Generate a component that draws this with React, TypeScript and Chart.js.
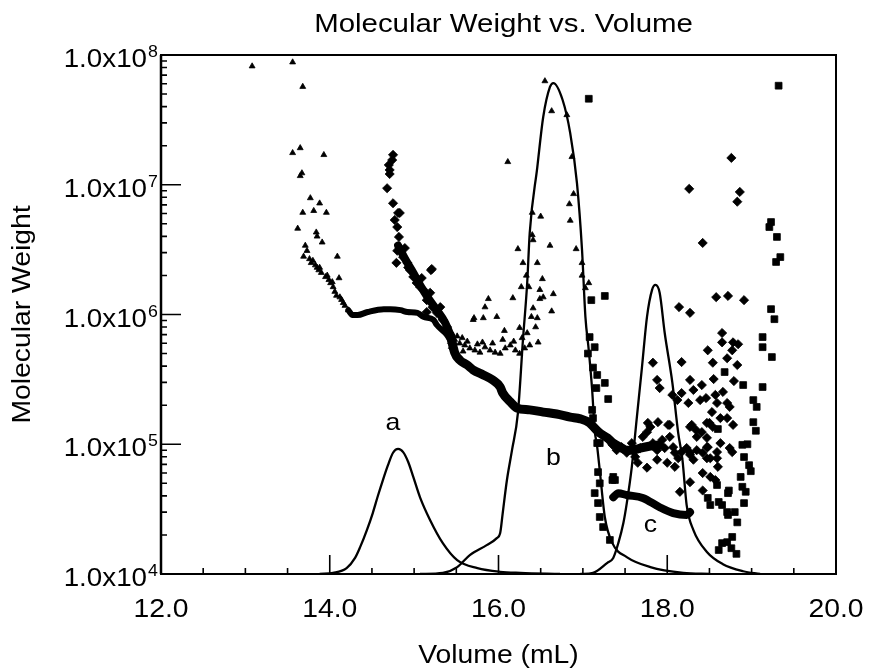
import React, { useEffect, useRef } from "react";
import { Chart, registerables } from "chart.js";

Chart.register(...registerables);

const FONT = '"Liberation Sans", Arial, Helvetica, sans-serif';
const TEXT_STRETCH = 1.11;

const CHART_TITLE = "Molecular Weight vs. Volume";
const X_TITLE = "Volume (mL)";
const Y_TITLE = "Molecular Weight";

const X_MIN = 12;
const X_MAX = 20;
const Y_MIN = 1e4;
const Y_MAX = 1e8;
const X_MAJOR_TICKS = [12, 14, 16, 18, 20];
const X_TICK_LABELS = ["12.0", "14.0", "16.0", "18.0", "20.0"];
const X_MINOR_TICKS = [12.5, 13, 13.5, 14.5, 15, 15.5, 16.5, 17, 17.5, 18.5, 19, 19.5];
const Y_MAJOR_TICKS = [1e4, 1e5, 1e6, 1e7, 1e8];
const Y_TICK_MANTISSA = "1.0x10";
const Y_TICK_EXPONENTS = ["4", "5", "6", "7", "8"];
const Y_MINOR_FACTORS = [2, 3, 4, 5, 6, 7, 8, 9];

const PEAK_LABELS = ["a", "b", "c"];
const PEAK_LABEL_X = [14.75, 16.65, 17.8];
const PEAK_LABEL_Y = [1.29e5, 6.9e4, 2.1e4];

// Detector traces (peaks a, b, c)
const CURVE_A_X = [13.88, 14.04, 14.2, 14.3, 14.36, 14.44, 14.51, 14.57, 14.63, 14.69, 14.75, 14.81, 14.87, 14.93, 14.99, 15.07, 15.19, 15.34, 15.51, 15.75, 16.02, 16.26, 16.73];
const CURVE_A_Y = [1.0e4, 1.02e4, 1.11e4, 1.33e4, 1.61e4, 2.18e4, 2.95e4, 3.99e4, 5.3e4, 6.9e4, 8.6e4, 9.2e4, 8.7e4, 7.3e4, 5.6e4, 3.9e4, 2.6e4, 1.73e4, 1.28e4, 1.11e4, 1.04e4, 1.02e4, 1.0e4];

const CURVE_B_X = [15.07, 15.34, 15.51, 15.66, 15.86, 15.98, 16.02, 16.05, 16.1, 16.16, 16.23, 16.29, 16.34, 16.37, 16.46, 16.53, 16.61, 16.65, 16.76, 16.85, 16.93, 16.99, 17.03, 17.07, 17.11, 17.14, 17.17, 17.2, 17.26, 17.35, 17.52, 17.8, 18.19, 18.51];
const CURVE_B_Y = [1.0e4, 1.02e4, 1.13e4, 1.4e4, 1.67e4, 1.89e4, 2.07e4, 2.95e4, 5.3e4, 9.0e4, 1.74e5, 6.4e5, 1.75e6, 4.25e6, 1.37e7, 3.33e7, 5.67e7, 6.08e7, 4.5e7, 2.5e7, 1.03e7, 3.14e6, 9.6e5, 5.3e5, 2.62e5, 1.29e5, 9.5e4, 6.3e4, 2.75e4, 1.73e4, 1.35e4, 1.13e4, 1.02e4, 1.0e4];

const CURVE_C_X = [16.97, 17.12, 17.29, 17.36, 17.42, 17.48, 17.52, 17.58, 17.64, 17.7, 17.76, 17.82, 17.86, 17.91, 17.97, 18.06, 18.13, 18.18, 18.23, 18.31, 18.47, 18.66, 18.9, 19.1];
const CURVE_C_Y = [1.0e4, 1.02e4, 1.22e4, 1.33e4, 1.73e4, 2.47e4, 3.5e4, 6.7e4, 1.62e5, 3.9e5, 9.6e5, 1.55e6, 1.69e6, 1.47e6, 7.2e5, 3.0e5, 1.22e5, 7.6e4, 3.4e4, 2.18e4, 1.48e4, 1.19e4, 1.05e4, 1.0e4];

// Sample a molecular weights (triangles)
const A_DENSE_X = [14.22, 14.27, 14.33, 14.45, 14.64, 14.72, 14.84, 14.92, 15.04, 15.11, 15.23, 15.27, 15.39, 15.46];
const A_DENSE_Y = [1.08e6, 9.9e5, 9.9e5, 1.045e6, 1.1e6, 1.1e6, 1.08e6, 1.045e6, 1.03e6, 9.6e5, 9.1e5, 8.3e5, 6.95e5, 5.8e5];
const A_PTS_X = [13.08, 13.56, 13.68, 13.56, 13.65, 13.93, 13.67, 13.65, 13.77, 13.88, 13.68, 13.81, 13.96, 13.62, 13.84, 13.85, 13.91, 13.71, 13.73, 13.69, 13.8, 13.85, 13.88, 13.97, 14.03, 14.09, 14.11, 14.04, 14.12, 14.16, 14.22, 13.76, 13.78, 13.83, 13.87, 13.9, 13.95, 13.99, 14.01, 14.06, 14.08, 14.14, 14.18,
  15.7, 16.55, 16.63, 16.81, 16.11, 16.87, 16.89, 16.84, 16.85, 16.5, 16.4, 16.4, 16.41, 16.61, 16.92, 16.23, 16.29, 16.46, 16.33, 16.52, 16.99, 16.99, 17.07, 17.03, 16.27, 16.36, 16.49, 16.53, 16.65, 16.49, 16.17, 16.63, 15.88, 15.84, 15.98, 15.82, 15.71, 16.41, 16.39, 16.46, 16.44, 16.25, 16.07, 16.47, 16.34,
  15.48, 15.54, 15.6, 15.66, 15.72, 15.78, 15.84, 15.9, 15.96, 16.02, 16.08, 16.14, 16.2, 16.25, 16.31, 16.37, 15.51, 15.57, 15.63, 15.75, 15.81, 15.93, 16.05, 16.18, 16.28, 15.58];
const A_PTS_Y = [8.2e7, 8.8e7, 5.7e7, 1.76e7, 1.92e7, 1.7e7, 1.23e7, 1.17e7, 7.9e6, 7.2e6, 6.1e6, 6.3e6, 6.1e6, 4.6e6, 4.3e6, 4.0e6, 3.6e6, 3.4e6, 3.1e6, 2.8e6, 2.6e6, 2.3e6, 2.3e6, 2.0e6, 1.78e6, 2.8e6, 1.91e6, 1.63e6, 1.36e6, 1.23e6, 1.08e6, 2.68e6, 2.5e6, 2.4e6, 2.2e6, 2.1e6, 1.95e6, 1.85e6, 1.75e6, 1.5e6, 1.4e6, 1.3e6, 1.17e6,
  9.1e5, 6.3e7, 3.7e7, 3.45e7, 1.5e7, 1.64e7, 8.5e6, 7.1e6, 5.3e6, 5.7e6, 6.1e6, 4.1e6, 3.75e6, 3.4e6, 3.2e6, 3.2e6, 2.5e6, 2.5e6, 2.0e6, 1.88e6, 2.5e6, 2.0e6, 1.75e6, 1.6e6, 1.63e6, 1.63e6, 1.55e6, 1.36e6, 1.44e6, 1.32e6, 1.34e6, 1.06e6, 1.32e6, 1.14e6, 9.6e5, 9.4e5, 9.4e5, 1.12e6, 9.6e5, 9.4e5, 8.0e5, 7.9e5, 7.5e5, 6.1e5, 7.2e5,
  6.4e5, 6.0e5, 5.8e5, 5.5e5, 5.3e5, 5.1e5, 5.6e5, 5.3e5, 5.1e5, 5.0e5, 5.5e5, 5.8e5, 5.3e5, 5.0e5, 5.5e5, 5.8e5, 6.8e5, 6.6e5, 6.2e5, 5.9e5, 6.1e5, 6.0e5, 6.4e5, 6.2e5, 6.6e5, 5.2e5];

// Sample b molecular weights (diamonds)
const B_BAND_X = [14.81, 14.89, 14.99, 15.07, 15.16, 15.27, 15.37, 15.43];
const B_BAND_Y = [3.4e6, 2.7e6, 2.1e6, 1.69e6, 1.36e6, 1.08e6, 8.6e5, 6.95e5];
const B_DENSE_X = [15.43, 15.48, 15.54, 15.63, 15.7, 15.82, 15.93, 16.02, 16.05, 16.14, 16.22, 16.37, 16.53, 16.69, 16.85, 16.97, 17.08, 17.14, 17.2, 17.29, 17.36, 17.44, 17.52, 17.59, 17.68, 17.8, 17.91];
const B_DENSE_Y = [6.95e5, 5.1e5, 4.46e5, 4.08e5, 3.74e5, 3.42e5, 3.13e5, 2.76e5, 2.48e5, 2.12e5, 1.9e5, 1.84e5, 1.77e5, 1.71e5, 1.62e5, 1.57e5, 1.46e5, 1.33e5, 1.22e5, 1.12e5, 1.02e5, 9.5e4, 9.0e4, 9.0e4, 9.35e4, 9.7e4, 9.9e4];
const B_PTS_X = [14.75, 14.74, 14.7, 14.71, 14.71, 14.68, 14.75, 14.81, 14.77, 14.8, 14.82, 14.8, 14.83, 14.89, 14.79, 14.87, 14.92, 14.95, 14.99, 15.21, 15.03, 15.09, 15.11, 15.19, 15.15, 15.22, 15.31, 15.27, 15.34, 15.39, 15.43, 15.15, 15.45, 15.46, 15.2, 14.83, 14.93, 15.07,
  18.76, 18.26, 18.86, 18.83, 18.42, 18.58, 18.72, 18.91, 18.14, 18.27,
  17.83, 18.17, 17.88, 17.91, 18.48, 18.54, 18.65, 18.65, 18.78, 18.84, 18.77, 18.71, 18.83, 18.79, 18.55, 18.41, 18.27, 18.31, 18.17, 18.06, 18.12, 18.25, 18.39, 18.46, 18.57, 18.59, 18.66, 18.71, 18.74, 18.53, 18.63, 18.71, 18.78, 18.29, 18.5, 18.34, 18.35, 18.63, 18.47, 18.48, 17.89, 18.03, 17.8, 18.74, 18.77, 18.27, 18.31, 18.47, 18.59, 18.6, 18.42, 18.51, 18.57, 18.27, 18.15, 18.42,
  17.35, 17.4, 17.46, 17.52, 17.58, 17.62, 17.68, 17.71, 17.76, 17.77, 17.83, 17.88, 17.94, 17.97, 18.01, 18.03, 18.07, 18.09, 18.13, 17.76, 17.65, 17.88, 18.0, 18.09, 18.17, 18.23, 18.27, 18.35, 18.42, 18.47, 18.51, 18.59, 18.41, 18.47, 18.54, 18.27];
const B_PTS_Y = [1.7e7, 1.55e7, 1.42e7, 1.3e7, 1.21e7, 9.4e6, 7.2e6, 6.06e6, 5.35e6, 4.72e6, 3.96e6, 3.1e6, 3.25e6, 3.25e6, 2.5e6, 2.77e6, 2.5e6, 2.2e6, 1.95e6, 2.24e6, 1.75e6, 1.91e6, 1.55e6, 1.47e6, 1.29e6, 1.14e6, 1.14e6, 1.03e6, 9.1e5, 8.0e5, 6.95e5, 1.045e6, 6.0e5, 5.5e5, 2.2e6, 6.06e6, 2.3e6, 1.63e6,
  1.61e7, 9.3e6, 8.8e6, 7.4e6, 3.56e6, 1.36e6, 1.39e6, 1.29e6, 1.14e6, 1.03e6,
  4.25e5, 4.3e5, 3.13e5, 2.71e5, 5.3e5, 4.25e5, 7.2e5, 6.1e5, 6.1e5, 5.9e5, 5.3e5, 4.6e5, 4.08e5, 3.07e5, 3.18e5, 2.86e5, 3.13e5, 2.62e5, 2.48e5, 2.4e5, 2.19e5, 2.08e5, 2.19e5, 2.27e5, 2.4e5, 2.08e5, 2.53e5, 2.08e5, 1.94e5, 1.77e5, 1.59e5, 1.59e5, 1.41e5, 1.41e5, 1.46e5, 1.29e5, 1.14e5, 1.02e5, 1.12e5, 9.5e4, 1.48e5, 1.41e5, 1.36e5, 9.35e4, 8.7e4, 8.6e4, 7.6e4, 7.8e4, 7.8e4, 6.7e4, 6.0e4, 5.6e4, 5.3e4, 5.1e4, 4.3e4, 4.4e4,
  9.9e4, 9.0e4, 9.5e4, 8.6e4, 1.02e5, 8.0e4, 9.35e4, 1.14e5, 1.24e5, 1.46e5, 1.02e5, 9.0e4, 1.08e5, 9.35e4, 1.41e5, 1.14e5, 9.5e4, 8.6e4, 7.8e4, 6.6e4, 7.2e4, 7.6e4, 7.2e4, 6.7e4, 8.7e4, 9.35e4, 8.3e4, 9.0e4, 8.6e4, 9.5e4, 7.8e4, 8.7e4, 1.24e5, 1.46e5, 1.36e5, 1.36e5];

// Sample c molecular weights (squares)
const C_DENSE_X = [17.36, 17.42, 17.52, 17.71, 17.91, 18.07, 18.23, 18.27];
const C_DENSE_Y = [3.9e4, 4.2e4, 4.06e4, 3.86e4, 3.27e4, 2.95e4, 2.85e4, 3.0e4];
const C_PTS_X = [17.07, 19.32, 19.23, 19.21, 19.3, 19.34, 19.29, 19.23, 19.27, 19.13, 19.13, 19.24, 18.68, 18.9, 19.13, 19.02, 19.06, 19.02, 19.05, 18.95, 18.89, 18.91, 18.97, 18.99, 18.87, 18.6, 18.59, 18.89, 18.93, 18.73, 18.72, 18.91, 18.48, 18.51, 18.61, 18.65, 18.71, 18.8, 18.83, 18.72,
  17.1, 17.26, 17.08, 17.14, 17.06, 17.12, 17.17, 17.26, 17.16, 17.3, 17.11, 17.12, 17.2, 17.17, 17.18, 17.36, 17.2, 17.14, 17.18, 17.2, 17.24, 17.32, 17.35, 17.38,
  18.77, 18.71, 18.65, 18.61, 18.76, 18.82];
const C_PTS_Y = [4.6e7, 5.8e7, 5.16e6, 4.72e6, 3.96e6, 2.77e6, 2.54e6, 1.1e6, 9.2e5, 6.7e5, 5.6e5, 4.7e5, 3.6e5, 2.86e5, 2.76e5, 2.19e5, 1.94e5, 1.48e5, 1.27e5, 1.0e5, 9.9e4, 7.97e4, 6.9e4, 6.2e4, 5.6e4, 1.31e5, 4.85e4, 4.7e4, 4.3e4, 4.4e4, 4.2e4, 3.52e4, 3.86e4, 3.4e4, 3.59e4, 3.4e4, 3.0e4, 3.0e4, 2.5e4, 2.85e4,
  1.29e6, 1.39e6, 6.7e5, 5.6e5, 5.0e5, 3.9e5, 3.42e5, 2.97e5, 2.71e5, 2.23e5, 1.84e5, 1.59e5, 1.02e5, 1.02e5, 6.1e4, 5.6e4, 5.0e4, 4.2e4, 3.52e4, 2.75e4, 2.3e4, 1.83e4, 5.3e4, 5.3e4,
  1.93e4, 1.76e4, 1.73e4, 1.53e4, 1.58e4, 1.43e4];

const pts = (xs: number[], ys: number[]) => xs.map((x, i) => ({ x, y: ys[i] }));

function drawText(ctx: CanvasRenderingContext2D, text: string, x: number, y: number, size: number, align: CanvasTextAlign, rotate = 0) {
  ctx.save();
  ctx.translate(x, y);
  if (rotate) ctx.rotate(rotate);
  ctx.scale(TEXT_STRETCH, 1);
  ctx.font = `${size}px ${FONT}`;
  ctx.textAlign = align;
  ctx.textBaseline = "alphabetic";
  ctx.fillStyle = "#000";
  ctx.fillText(text, 0, 0);
  ctx.restore();
}

const decorPlugin = {
  id: "decor",
  afterDraw(chart: any) {
    const { ctx, chartArea: a, scales } = chart;
    const xs = scales.x;
    const ys = scales.y;
    ctx.save();
    ctx.strokeStyle = "#000";
    ctx.lineWidth = 2;
    ctx.strokeRect(a.left, a.top, a.right - a.left, a.bottom - a.top);
    ctx.lineWidth = 2.5;
    ctx.beginPath();
    ctx.moveTo(a.left, a.top);
    ctx.lineTo(a.left, a.bottom);
    ctx.stroke();
    ctx.lineWidth = 1.6;
    ctx.beginPath();
    X_MAJOR_TICKS.forEach((v) => {
      const p = xs.getPixelForValue(v);
      ctx.moveTo(p, a.bottom);
      ctx.lineTo(p, a.bottom - 19);
    });
    X_MINOR_TICKS.forEach((v) => {
      const p = xs.getPixelForValue(v);
      ctx.moveTo(p, a.bottom);
      ctx.lineTo(p, a.bottom - 6);
    });
    Y_MAJOR_TICKS.forEach((v) => {
      const p = ys.getPixelForValue(v);
      ctx.moveTo(a.left, p);
      ctx.lineTo(a.left + 20, p);
    });
    Y_MAJOR_TICKS.slice(0, -1).forEach((d) => {
      Y_MINOR_FACTORS.forEach((f) => {
        const p = ys.getPixelForValue(d * f);
        ctx.moveTo(a.left, p);
        ctx.lineTo(a.left + 6, p);
      });
    });
    ctx.stroke();

    X_MAJOR_TICKS.forEach((v, i) => {
      drawText(ctx, X_TICK_LABELS[i], xs.getPixelForValue(v), a.bottom + 43, 25.5, "center");
    });
    Y_MAJOR_TICKS.forEach((v, i) => {
      const p = ys.getPixelForValue(v);
      drawText(ctx, Y_TICK_MANTISSA, a.left - 14, p + 12, 25, "right");
      drawText(ctx, Y_TICK_EXPONENTS[i], a.left - 13, p + 2, 16, "left");
    });
    const cx = (a.left + a.right) / 2;
    const cy = (a.top + a.bottom) / 2;
    drawText(ctx, CHART_TITLE, cx + 5, 32, 26.5, "center");
    drawText(ctx, X_TITLE, cx, a.bottom + 89, 25.5, "center");
    drawText(ctx, Y_TITLE, 30, cy, 25.5, "center", -Math.PI / 2);
    PEAK_LABELS.forEach((t, i) => {
      drawText(ctx, t, xs.getPixelForValue(PEAK_LABEL_X[i]), ys.getPixelForValue(PEAK_LABEL_Y[i]), 24, "center");
    });
    ctx.restore();
  },
};

export default function App() {
  const ref = useRef<HTMLCanvasElement | null>(null);
  useEffect(() => {
    if (!ref.current) return;
    const curve = (xs: number[], ys: number[]) => ({
      data: pts(xs, ys),
      showLine: true,
      borderColor: "#000",
      borderWidth: 2.3,
      pointRadius: 0,
      cubicInterpolationMode: "monotone" as const,
    });
    const dense = (xs: number[], ys: number[], w: number) => ({
      data: pts(xs, ys),
      showLine: true,
      borderColor: "#000",
      borderWidth: w,
      borderCapStyle: "round" as const,
      borderJoinStyle: "round" as const,
      pointRadius: 0,
      cubicInterpolationMode: "monotone" as const,
    });
    const marks = (xs: number[], ys: number[], style: string, r: number) => ({
      data: pts(xs, ys),
      showLine: false,
      pointStyle: style,
      pointRadius: r,
      pointBackgroundColor: "#000",
      pointBorderColor: "#000",
      pointBorderWidth: 0.8,
    });
    const chart = new Chart(ref.current, {
      type: "scatter",
      data: {
        datasets: [
          curve(CURVE_A_X, CURVE_A_Y),
          curve(CURVE_B_X, CURVE_B_Y),
          curve(CURVE_C_X, CURVE_C_Y),
          dense(A_DENSE_X, A_DENSE_Y, 6),
          dense(B_BAND_X, B_BAND_Y, 8),
          dense(B_DENSE_X, B_DENSE_Y, 9),
          dense(C_DENSE_X, C_DENSE_Y, 8),
          marks(A_PTS_X, A_PTS_Y, "triangle", 3.4),
          marks(B_PTS_X, B_PTS_Y, "rectRot", 4.6),
          marks(C_PTS_X, C_PTS_Y, "rect", 4.8),
        ] as any,
      },
      options: {
        responsive: false,
        animation: false,
        layout: { padding: { left: 0, right: 33, top: 55, bottom: 0 } },
        plugins: { legend: { display: false }, tooltip: { enabled: false }, title: { display: false } },
        scales: {
          x: {
            type: "linear",
            min: X_MIN,
            max: X_MAX,
            ticks: { display: false },
            grid: { display: false },
            border: { display: false },
            afterFit: (s: any) => { s.height = 94; },
          },
          y: {
            type: "logarithmic",
            min: Y_MIN,
            max: Y_MAX,
            ticks: { display: false },
            grid: { display: false },
            border: { display: false },
            afterFit: (s: any) => { s.width = 161; },
          },
        },
      } as any,
      plugins: [decorPlugin],
    });
    return () => chart.destroy();
  }, []);
  return (
    <div style={{ position: "fixed", left: 0, top: 0, width: 869, height: 668, background: "#fff" }}>
      <canvas ref={ref} width={869} height={668} style={{ display: "block" }} />
    </div>
  );
}
